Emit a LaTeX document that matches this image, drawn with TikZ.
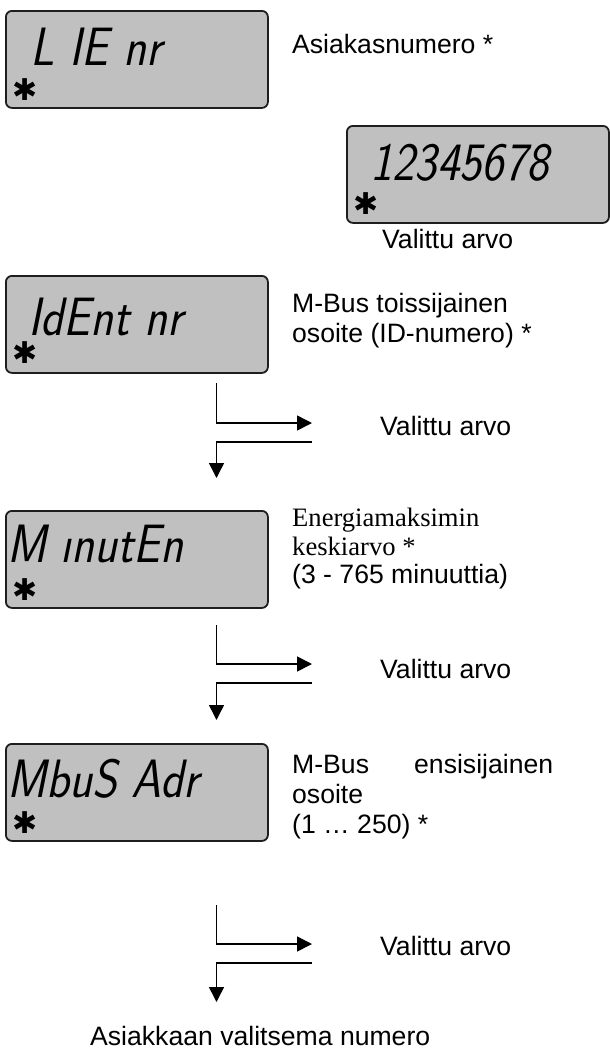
\documentclass[tikz,border=0pt]{standalone}
\usepackage{fontspec}
\setmainfont{Liberation Sans}
\newfontfamily\timesfont{Liberation Serif}
\newfontfamily\lcdfont[FakeSlant=0.2,FakeStretch=0.88]{Latin Modern Sans}
\newfontfamily\symfont{DejaVu Sans}
\usetikzlibrary{arrows.meta}
\definecolor{lcdgray}{RGB}{192,192,192}
\definecolor{lcdedge}{RGB}{30,30,30}
\begin{document}
\begin{tikzpicture}[x=1pt,y=-1pt,
  lcdbox/.style={draw=lcdedge, line width=1.8pt, fill=lcdgray, rounded corners=6pt,
    minimum width=262pt, minimum height=97pt, anchor=north west, inner sep=0pt},
  lcdtext/.style={anchor=base west, inner sep=0pt, font=\lcdfont\fontsize{54}{54}\selectfont},
  lcdstar/.style={anchor=center, inner sep=0pt, font=\symfont\fontsize{30}{30}\selectfont},
  lbl/.style={anchor=base west, inner sep=0pt, font=\fontsize{26.6}{30}\selectfont},
  serlbl/.style={anchor=base west, inner sep=0pt, font=\timesfont\fontsize{26.6}{30}\selectfont},
  flowarrow/.style={line width=1.5pt, -{Triangle[length=15pt,width=15pt]}}
]
\useasboundingbox (0,0) rectangle (610,1050);

% ---- displays ----
\node[lcdbox] (b1) at (5,10) {};
\node[lcdtext] (t1) at (30,65) {L IE nr};
\node[lcdstar] (s1) at (25,90) {✱};

\node[lcdbox] (b2) at (346,125) {};
\node[lcdtext] (t2) at (370,180) {12345678};
\node[lcdstar] (s2) at (366,204) {✱};

\node[lcdbox] (b3) at (5,275) {};
\node[lcdtext] (t3) at (28,335) {IdEnt nr};
\node[lcdstar] (s3) at (25,353) {✱};

\node[lcdbox] (b4) at (5,510) {};
\node[lcdtext] (t4) at (7,562) {M ınutEn};
\node[lcdstar] (s4) at (25,590) {✱};

\node[lcdbox] (b5) at (5,743) {};
\node[lcdtext] (t5) at (7,797) {MbuS Adr};
\node[lcdstar] (s5) at (25,823) {✱};

% ---- labels ----
\node[lbl] (l1) at (292,53) {Asiakasnumero *};
\node[lbl] (v0) at (382,248) {Valittu arvo};

\node[lbl] (l3a) at (292,312) {M-Bus toissijainen};
\node[lbl] (l3b) at (292,342) {osoite (ID-numero) *};

\node[serlbl] (l4a) at (292,526) {Energiamaksimin};
\node[serlbl] (l4b) at (292,555) {keskiarvo *};
\node[lbl] (l4c) at (292,583) {(3 - 765 minuuttia)};

\node[lbl] (l5a) at (292,773) {\hbox to 261pt{M-Bus\hfill ensisijainen}};
\node[lbl] (l5b) at (292,803) {osoite};
\node[lbl] (l5c) at (292,833) {(1 … 250) *};

\node[lbl] (v1) at (380,435) {Valittu arvo};
\node[lbl] (v2) at (380,678) {Valittu arvo};
\node[lbl] (v3) at (380,955) {Valittu arvo};

\node[lbl] (fin) at (90,1045) {Asiakkaan valitsema numero};

% ---- flow connectors ----
\foreach \n/\yt/\yh/\ys/\yd in {1/383/423/442/478, 2/625/664/683/720, 3/905/944/963/1002}{
  \coordinate (a\n top) at (216.5,\yt);
  \coordinate (a\n corner) at (216.5,\yh);
  \coordinate (a\n tip) at (312,\yh);
  \coordinate (r\n start) at (312,\ys);
  \coordinate (r\n corner) at (216.5,\ys);
  \coordinate (r\n tip) at (216.5,\yd);
  \draw[flowarrow] (a\n top) -- (a\n corner) -- (a\n tip);
  \draw[flowarrow] (r\n start) -- (r\n corner) -- (r\n tip);
}
\end{tikzpicture}
\end{document}
